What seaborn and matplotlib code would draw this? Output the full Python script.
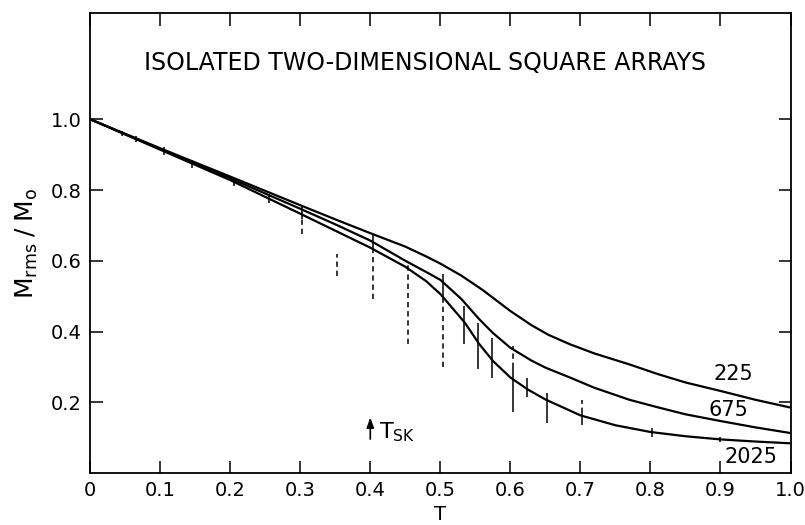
import numpy as np
import pandas as pd
import matplotlib
matplotlib.use("Agg")
import matplotlib.pyplot as plt
import seaborn as sns

# curve readings (T, Mrms/Mo) for each array size
t_225 = [0, 0.1, 0.2, 0.3, 0.35, 0.4, 0.45, 0.48, 0.5, 0.53, 0.56, 0.58, 0.6,
         0.63, 0.655, 0.685, 0.72, 0.77, 0.81, 0.85, 0.9, 0.95, 1.0]
m_225 = [1.0, 0.918, 0.838, 0.757, 0.717, 0.678, 0.640, 0.612, 0.592, 0.558,
         0.518, 0.488, 0.458, 0.418, 0.390, 0.364, 0.338, 0.307, 0.280, 0.256,
         0.232, 0.207, 0.185]

t_675 = [0, 0.1, 0.2, 0.3, 0.35, 0.4, 0.45, 0.48, 0.5, 0.53, 0.555, 0.575, 0.6,
         0.63, 0.65, 0.685, 0.72, 0.77, 0.81, 0.85, 0.9, 0.95, 1.0]
m_675 = [1.0, 0.916, 0.833, 0.747, 0.703, 0.657, 0.600, 0.568, 0.546, 0.492,
         0.436, 0.396, 0.354, 0.318, 0.298, 0.270, 0.241, 0.207, 0.186, 0.166,
         0.147, 0.129, 0.113]

t_2025 = [0, 0.1, 0.2, 0.3, 0.35, 0.4, 0.45, 0.48, 0.5, 0.535, 0.555, 0.575,
          0.6, 0.625, 0.65, 0.7, 0.75, 0.8, 0.85, 0.9, 0.95, 1.0]
m_2025 = [1.0, 0.914, 0.828, 0.733, 0.685, 0.637, 0.583, 0.542, 0.506, 0.425,
          0.366, 0.317, 0.270, 0.236, 0.208, 0.163, 0.135, 0.116, 0.104, 0.095,
          0.089, 0.084]

# fluctuation bars, solid parts
bar_t = [0.045, 0.065, 0.105, 0.145, 0.205, 0.255, 0.303, 0.404, 0.504, 0.534,
         0.554, 0.574, 0.604, 0.624, 0.652, 0.702, 0.802, 0.9]
bar_lo = [0.952, 0.935, 0.900, 0.862, 0.810, 0.762, 0.718, 0.630, 0.487, 0.366,
          0.293, 0.268, 0.172, 0.214, 0.141, 0.135, 0.101, 0.088]
bar_hi = [0.968, 0.952, 0.922, 0.886, 0.835, 0.790, 0.755, 0.676, 0.563, 0.473,
          0.423, 0.383, 0.296, 0.268, 0.225, 0.169, 0.127, 0.102]

# dashed parts
dash_t = [0.303, 0.353, 0.404, 0.454, 0.504, 0.604, 0.702]
dash_lo = [0.676, 0.558, 0.493, 0.366, 0.299, 0.296, 0.169]
dash_hi = [0.718, 0.620, 0.630, 0.590, 0.487, 0.360, 0.206]

df = pd.concat([
    pd.DataFrame({"T": t_225, "M": m_225, "N": "225"}),
    pd.DataFrame({"T": t_675, "M": m_675, "N": "675"}),
    pd.DataFrame({"T": t_2025, "M": m_2025, "N": "2025"}),
])

sns.set_theme(style="ticks")
plt.rcParams["font.family"] = ["DejaVu Sans"]
plt.rcParams["text.color"] = "black"
plt.rcParams["axes.labelcolor"] = "black"

fig = plt.figure(figsize=(8.05, 5.25), dpi=100)
ax = fig.add_axes([0.112, 0.099, 0.870, 0.876])

sns.lineplot(data=df, x="T", y="M", units="N", estimator=None, sort=False,
             color="black", lw=1.6, ax=ax)

ax.vlines(bar_t, bar_lo, bar_hi, colors="black", lw=1.1)
ax.vlines(dash_t, dash_lo, dash_hi, colors="black", lw=1.1, linestyles=(0, (3.5, 2.5)))

ax.set_xlim(0, 1.0)
ax.set_ylim(0, 1.3)
ax.set_xticks(np.arange(0, 1.01, 0.1))
ax.set_xticklabels(["0", "0.1", "0.2", "0.3", "0.4", "0.5", "0.6", "0.7", "0.8", "0.9", "1.0"])
ax.set_yticks([0.2, 0.4, 0.6, 0.8, 1.0])
ax.set_yticklabels(["0.2", "0.4", "0.6", "0.8", "1.0"])
ax.tick_params(direction="in", length=9, width=1.1, top=True, right=True,
               labelsize=14, colors="black", pad=6)
for s in ax.spines.values():
    s.set_linewidth(1.3)
    s.set_color("black")

ax.set_xlabel("T", fontsize=14, labelpad=3)
ax.set_ylabel(r"$\mathrm{M_{rms}\;/\;M_o}$", fontsize=18, labelpad=8)

ax.text(0.478, 1.16, "ISOLATED TWO-DIMENSIONAL SQUARE ARRAYS", ha="center",
        va="center", fontsize=17)

ax.text(0.919, 0.28, "225", ha="center", va="center", fontsize=15)
ax.text(0.912, 0.177, "675", ha="center", va="center", fontsize=15)
ax.text(0.943, 0.045, "2025", ha="center", va="center", fontsize=15)

ax.annotate("", xy=(0.4, 0.165), xytext=(0.4, 0.088),
            arrowprops=dict(arrowstyle="-|>,head_length=0.5,head_width=0.18",
                            color="black", lw=1.2))
ax.text(0.413, 0.115, r"$\mathrm{T_{SK}}$", fontsize=16, va="center")

fig.savefig("out.png", dpi=100)
